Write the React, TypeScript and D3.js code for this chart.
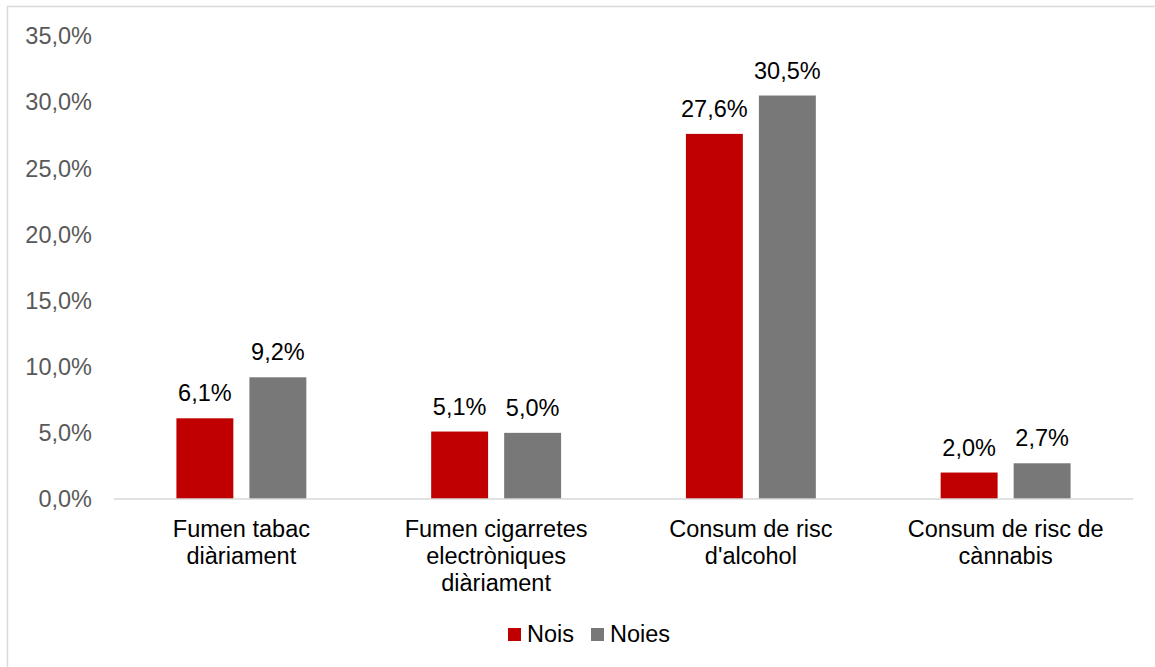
import React from "react";
import * as d3 from "d3";

const categories: string[][] = [
  ["Fumen tabac", "diàriament"],
  ["Fumen cigarretes", "electròniques", "diàriament"],
  ["Consum de risc", "d'alcohol"],
  ["Consum de risc de", "cànnabis"],
];
const seriesNames = ["Nois", "Noies"];
const nois = [6.1, 5.1, 27.6, 2.0];
const noies = [9.2, 5.0, 30.5, 2.7];
const yTicks = [0, 5, 10, 15, 20, 25, 30, 35];
const colors = ["#C00000", "#787878"];

const W = 1155;
const H = 667;
const FONT = "'Liberation Sans', Arial, sans-serif";
const FS = 23.5;

const fmt = (v: number) => v.toFixed(1).replace(".", ",") + "%";

export default function App() {
  const left = 114;
  const right = 1133;
  const top = 36;
  const bottom = 499;

  const catIdx = categories.map((_, i) => String(i));
  const x0 = d3
    .scaleBand<string>()
    .domain(catIdx)
    .range([left, right])
    .paddingInner(0.49)
    .paddingOuter(0.245);
  const x1 = d3
    .scaleBand<string>()
    .domain(seriesNames)
    .range([0, x0.bandwidth()])
    .paddingInner(0.22)
    .paddingOuter(0);
  const y = d3.scaleLinear().domain([0, 35]).range([bottom, top]);
  const series = [nois, noies];

  const stepCenter = (i: number) => (x0(String(i)) as number) + x0.bandwidth() / 2;

  const legendX = [508, 591];

  return (
    <svg
      width={W}
      height={H}
      style={{ position: "absolute", left: 0, top: 0, background: "#fff" }}
      fontFamily={FONT}
    >
      <rect x={0} y={0} width={W} height={H} fill="#fff" />
      <rect x={7.5} y={6.5} width={W + 20} height={H + 20} fill="none" stroke="#d9d9d9" strokeWidth={1.5} />

      {yTicks.map((t) => (
        <text
          key={t}
          x={92}
          y={y(t)}
          dy="0.35em"
          textAnchor="end"
          fontSize={FS}
          fill="#595959"
        >
          {fmt(t)}
        </text>
      ))}

      {series.map((vals, s) =>
        vals.map((v, i) => {
          const bx = (x0(String(i)) as number) + (x1(seriesNames[s]) as number);
          return (
            <g key={`${s}-${i}`}>
              <rect
                x={bx}
                y={y(v)}
                width={x1.bandwidth()}
                height={y(0) - y(v)}
                fill={colors[s]}
              />
              <text
                x={bx + x1.bandwidth() / 2}
                y={y(v) - 17}
                textAnchor="middle"
                fontSize={FS}
                fill="#000"
              >
                {fmt(v)}
              </text>
            </g>
          );
        })
      )}

      <line x1={left} x2={right} y1={bottom} y2={bottom} stroke="#d9d9d9" strokeWidth={1.5} />

      {categories.map((lines, i) => (
        <text key={i} textAnchor="middle" fontSize={FS} fill="#000">
          {lines.map((ln, k) => (
            <tspan key={k} x={stepCenter(i)} y={bottom + 38 + k * 27}>
              {ln}
            </tspan>
          ))}
        </text>
      ))}

      {seriesNames.map((n, s) => (
        <g key={n}>
          <rect x={legendX[s]} y={628} width={13} height={13} fill={colors[s]} />
          <text x={legendX[s] + 19} y={641.5} fontSize={FS} fill="#000">
            {n}
          </text>
        </g>
      ))}
    </svg>
  );
}
